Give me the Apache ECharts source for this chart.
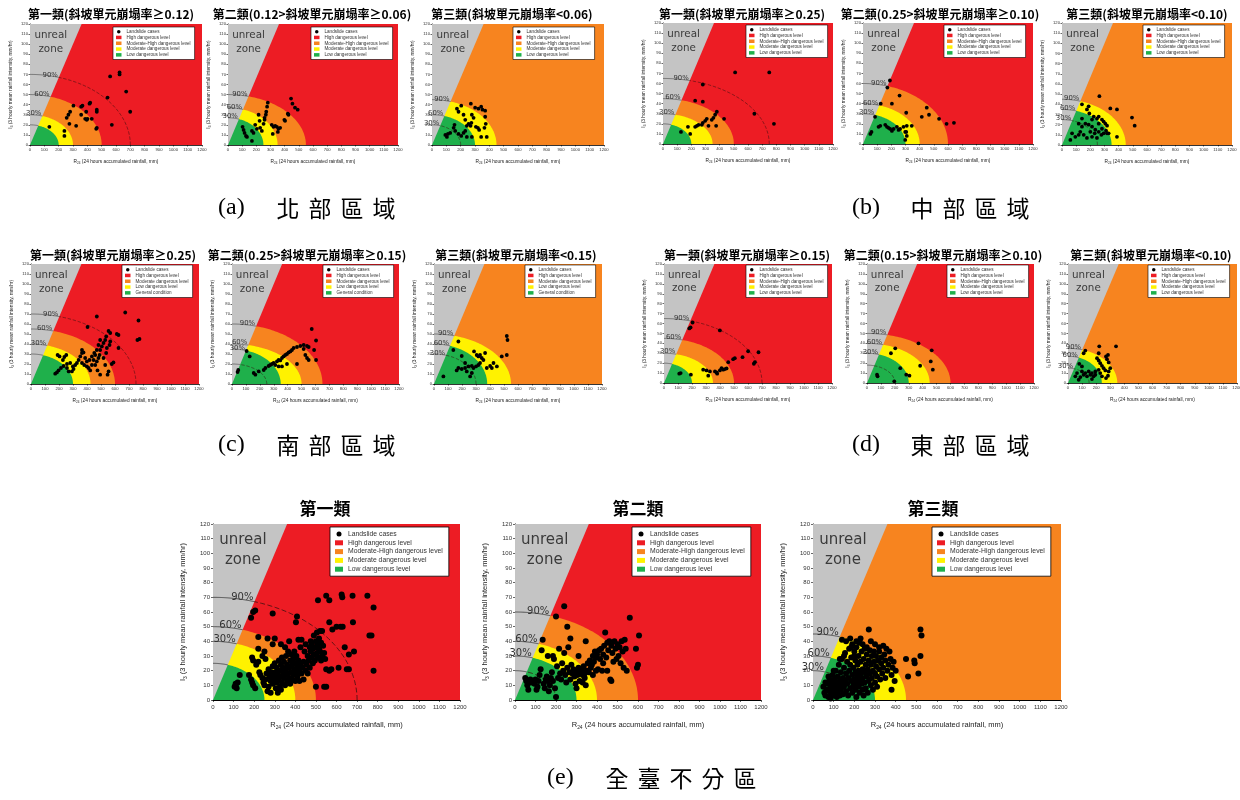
<!DOCTYPE html>
<html>
<head>
<meta charset="utf-8">
<script src="https://cdn.jsdelivr.net/npm/echarts@6/dist/echarts.min.js"></script>
<style>
  html, body { margin: 0; padding: 0; background: #fff; }
  #chart { width: 1240px; height: 800px; }
</style>
</head>
<body>
<div id="chart"></div>
<script>
// ---------------- data ----------------
// physical limit: 3-hour mean intensity cannot exceed R24 / 3
const unrealLine = [[0, 0], [360, 120]];

const legendStd = ['Landslide cases', 'High dangerous level', 'Moderate-High dangerous level', 'Moderate dangerous level', 'Low dangerous level'];
const legendSouth = ['Landslide cases', 'High dangerous level', 'Moderate dangerous level', 'Low dangerous level', 'General condition'];

const northTitles = ['第一類(斜坡單元崩塌率≥0.12)', '第二類(0.12>斜坡單元崩塌率≥0.06)', '第三類(斜坡單元崩塌率<0.06)'];
const centralTitles = ['第一類(斜坡單元崩塌率≥0.25)', '第二類(0.25>斜坡單元崩塌率≥0.10)', '第三類(斜坡單元崩塌率<0.10)'];
const southTitles = ['第一類(斜坡單元崩塌率≥0.25)', '第二類(0.25>斜坡單元崩塌率≥0.15)', '第三類(斜坡單元崩塌率<0.15)'];
const eastTitles = ['第一類(斜坡單元崩塌率≥0.15)', '第二類(0.15>斜坡單元崩塌率≥0.10)', '第三類(斜坡單元崩塌率<0.10)'];
const allTitles = ['第一類', '第二類', '第三類'];

const captionTags = ['(a)', '(b)', '(c)', '(d)', '(e)'];
const captionNames = ['北部區域', '中部區域', '南部區域', '東部區域', '全臺不分區'];

// zone boundaries [R24 radius, I3 radius]: low, moderate, (moderate-high)
const northC1Zones = [[200, 20], [300, 30], [500, 50]];
const northC2Zones = [[250, 27], [350, 37], [550, 50]];
const northC3Zones = [[300, 30], [450, 45]];
const centralC1Zones = [[200, 20], [350, 30], [500, 45]];
const centralC2Zones = [[300, 30], [400, 40], [600, 60]];
const centralC3Zones = [[350, 35], [450, 45]];
const southC1Zones = [[300, 30], [425, 40], [600, 55]];
const southC2Zones = [[350, 35], [500, 40], [650, 60]];
const southC3Zones = [[380, 40], [550, 50]];
const eastC1Zones = [[200, 20], [350, 30], [500, 45]];
const eastC2Zones = [[300, 30], [450, 40], [600, 50]];
const eastC3Zones = [[240, 27], [350, 35]];
const allC1Zones = [[250, 25], [400, 40], [500, 50]];
const allC2Zones = [[300, 30], [400, 40], [600, 60]];
const allC3Zones = [[300, 30], [450, 45]];

// probability contours [R24 radius, I3 radius, label]
const northC1Arcs = [[700, 70, '90%'], [500, 50, '60%'], [300, 30, '30%'], [200, 20, '']];
const northC2Arcs = [[550, 50, '90%'], [350, 37, '60%'], [250, 27, '30%']];
const northC3Arcs = [[450, 45, '90%'], [300, 30, '60%'], [200, 20, '30%']];
const centralC1Arcs = [[750, 65, '90%'], [500, 45, '60%'], [350, 30, '30%'], [200, 20, '']];
const centralC2Arcs = [[600, 60, '90%'], [400, 40, '60%'], [300, 30, '30%']];
const centralC3Arcs = [[450, 45, '90%'], [350, 35, '60%'], [250, 25, '30%']];
const southC1Arcs = [[750, 70, '90%'], [600, 55, '60%'], [425, 40, '30%'], [300, 30, '']];
const southC2Arcs = [[650, 60, '90%'], [500, 40, '60%'], [350, 35, '30%'], [250, 20, '']];
const southC3Arcs = [[550, 50, '90%'], [380, 40, '60%'], [300, 30, '30%']];
const eastC1Arcs = [[700, 65, '90%'], [500, 45, '60%'], [350, 30, '30%'], [200, 20, '']];
const eastC2Arcs = [[600, 50, '90%'], [450, 40, '60%'], [300, 30, '30%'], [200, 18, '']];
const eastC3Arcs = [[350, 35, '90%'], [240, 27, '60%'], [150, 15, '30%']];
const allC1Arcs = [[700, 70, '90%'], [500, 50, '60%'], [400, 40, '30%'], [250, 25, '']];
const allC2Arcs = [[600, 60, '90%'], [400, 40, '60%'], [300, 30, '30%'], [200, 20, '']];
const allC3Arcs = [[450, 45, '90%'], [300, 30, '60%'], [200, 20, '30%']];

// landslide cases [R24 (mm), I3 (mm/hr)]
const northC1 = [[625,72],[625,70],[559,68],[671,53],[541,47],[699,33],[571,20],[415,41],[420,42],[357,38],[366,39],[303,39],[280,33],[268,30],[256,27],[357,30],[392,33],[396,25],[401,26],[466,35],[466,33],[431,26],[466,17],[462,16],[322,19],[275,21],[135,18],[240,14],[240,9],[385,26]];
const northC2 = [[445,46],[455,41],[473,37],[492,35],[422,31],[427,30],[281,42],[276,38],[270,33],[267,30],[258,27],[258,25],[251,21],[216,30],[223,24],[309,20],[321,18],[333,19],[345,18],[356,16],[368,17],[352,13],[398,25],[403,24],[316,11],[192,20],[204,16],[227,17],[239,14],[110,15],[117,12],[127,9],[134,8],[103,18],[169,4],[169,14],[180,12]];
const northC3 = [[271,41],[301,37],[324,36],[343,38],[352,35],[371,34],[204,39],[174,36],[185,33],[220,30],[232,25],[278,30],[290,27],[275,22],[269,19],[306,18],[320,17],[329,15],[371,28],[375,21],[366,17],[382,8],[343,8],[232,14],[220,12],[204,9],[185,11],[111,11],[104,8],[93,10],[127,12],[157,20],[151,17],[162,14],[243,19],[255,21],[243,8],[278,8]];
const centralC1 = [[509,71],[750,71],[281,59],[227,43],[281,42],[645,30],[783,20],[431,25],[380,32],[368,29],[356,26],[344,24],[309,25],[298,23],[281,21],[274,19],[251,19],[239,18],[227,17],[321,18],[375,18],[176,17],[192,10],[127,12]];
const centralC2 = [[190,63],[172,56],[258,48],[125,40],[204,40],[85,27],[305,31],[415,27],[450,36],[466,29],[590,20],[110,17],[122,18],[157,19],[169,17],[180,16],[192,15],[204,13],[216,15],[239,17],[251,14],[262,15],[286,17],[298,12],[309,18],[344,18],[309,8],[298,4],[52,10],[305,12],[60,12],[537,25],[642,21]];
const centralC3 = [[264,48],[141,40],[188,38],[341,36],[388,35],[494,27],[513,19],[388,8],[176,35],[193,31],[224,28],[247,26],[259,28],[282,25],[294,23],[306,21],[318,19],[311,14],[294,11.5],[278,10],[259,13],[235,15],[212,18],[188,20],[165,21],[141,18],[129,13],[118,10],[94,8],[71,11.5],[59,5],[212,25],[212,8],[176,7],[153,10],[231,11.5],[259,21],[282,16],[318,11.5],[329,11.5],[247,7],[200,13],[141,26],[118,21]];
const southC1 = [[470,67.5],[673,71.5],[768,63.5],[760,44],[775,45],[404,57],[554,53],[566,51],[613,50],[625,49],[625,36],[589,21.6],[577,20],[537,47.5],[530,44],[518,41],[506,37.6],[494,34],[490,29],[482,26],[470,22.6],[459,19],[475,13.6],[494,9.3],[547,9.3],[554,12.6],[530,19],[518,26],[537,31],[542,36],[561,39],[566,42.5],[494,44],[482,39],[470,34],[452,31],[435,27.6],[418,24],[399,22.6],[387,26],[364,31],[352,27.6],[340,24],[328,21],[316,19],[299,17.6],[280,21],[257,20],[233,18],[214,16],[197,13.6],[185,11.6],[173,10.3],[257,16],[269,12.6],[292,12.6],[304,15],[364,21],[380,19],[399,17.6],[411,16],[423,13.6],[435,19],[447,24],[459,29],[238,27],[252,29],[190,29],[204,27.6],[228,24],[375,31.6],[364,34]];
const southC2 = [[45,14],[40,12],[105,33],[127,27.6],[156,11],[168,9.3],[192,12.6],[228,14],[240,16],[263,18],[275,19],[287,20],[299,21],[311,19],[323,22.6],[335,24],[347,23.6],[359,26],[371,27.6],[383,29],[395,30],[407,31.6],[419,32.6],[431,34],[443,36],[467,37],[491,38],[515,39],[539,38],[551,37],[515,35],[527,29],[539,26],[551,24],[573,55],[604,43.5],[590,34],[604,24],[467,20],[395,20],[359,17.6],[335,17.6]];
const southC3 = [[520,48],[525,44],[520,29],[174,42.5],[138,34],[198,28],[222,21],[286,32.6],[305,29],[317,27.6],[329,29],[341,26],[353,24],[329,21],[317,19],[300,17.6],[282,16],[270,18],[246,17.6],[222,16],[198,15],[174,16],[270,11],[258,7.6],[377,16],[401,18],[413,16],[449,17.6],[484,27.6],[425,21],[67,7.6],[162,13.6],[234,12.6],[365,31]];
const eastC1 = [[204,61],[190,56],[181,55],[399,53],[601,32],[675,31],[649,21],[642,19.4],[561,26],[506,25],[494,24],[459,21],[280,13.4],[304,12.7],[328,11.7],[364,11.7],[375,10.7],[399,12.7],[411,15],[423,13.4],[435,14],[447,14.7],[316,7.4],[380,9.4],[109,9.4],[119,10],[192,8.4]];
const eastC2 = [[370,40],[465,33],[203,35],[172,30],[382,17.4],[458,21.8],[473,13.4],[239,15],[282,8.4],[305,7.4],[196,1.7],[72,8.4],[76,6.7]];
const eastC3 = [[222,37],[341,37],[123,32.7],[111,30],[270,26.7],[284,28.3],[218,30],[206,25],[218,22.7],[229,20],[241,17.3],[253,15],[265,12.7],[289,11.7],[300,15],[284,7.3],[270,5],[147,11.7],[159,8.3],[170,10],[182,6.7],[194,8.3],[135,6.7],[123,10],[111,8.3],[99,11.7],[88,6],[64,10],[52,6.7],[76,3.3],[170,4],[194,11.7],[218,13.3],[229,10],[241,6.7],[80,19.3],[99,16.7],[277,24],[289,20.7]];
const allC1 = [[105,9],[110,10],[115,8],[120,12],[130,17],[175,17],[185,14],[190,12],[195,10],[205,8],[190,29],[195,27],[210,24],[220,26],[225,19],[230,17],[240,15],[245,12],[250,10],[255,14],[260,18],[265,6],[270,9],[270,21],[275,16],[280,13],[285,19],[290,23],[290,11],[295,16],[300,25],[300,14],[305,19],[305,8],[310,22],[310,12],[315,17],[315,5],[320,27],[320,14],[325,20],[325,9],[330,24],[330,16],[335,29],[335,12],[340,19],[340,22],[345,15],[345,26],[350,17],[350,10],[355,21],[355,30],[360,13],[360,24],[365,33],[365,18],[370,22],[370,15],[375,27],[375,11],[380,19],[380,31],[385,24],[385,14],[390,17],[390,28],[395,21],[395,33],[400,25],[400,13],[405,19],[405,30],[410,23],[410,16],[415,27],[415,41],[420,20],[420,13],[425,24],[425,36],[430,18],[430,41],[435,22],[440,26],[440,14],[445,33],[450,20],[450,38],[455,24],[460,18],[460,30],[465,27],[470,36],[470,22],[475,33],[475,40],[480,29],[480,38],[485,35],[485,25],[490,31],[490,44],[495,27],[500,36],[500,40],[505,46],[505,32],[510,38],[510,29],[515,42],[515,35],[520,47],[520,33],[525,27],[525,39],[530,47],[530,30],[535,37],[540,32],[545,28],[550,21],[565,20],[575,21],[580,48],[600,50],[620,50],[630,50],[565,53],[640,36],[660,31],[685,33],[610,22],[650,21],[660,21],[500,9],[540,9],[550,9],[680,53],[760,44],[770,44],[780,63],[780,20],[510,68],[550,71],[565,68],[625,72],[628,70],[678,71],[750,71],[195,60],[205,61],[185,56],[290,59],[408,57],[403,53],[220,43],[265,42],[290,38],[300,42],[330,38],[350,36],[370,40],[250,33],[240,30],[220,35],[255,28],[330,7],[280,5],[110,11]];
const allC2 = [[50,15],[55,13],[60,10],[65,7],[75,14],[80,12],[95,11],[100,14],[105,7],[110,9],[115,13],[120,17],[125,21],[130,34],[135,41],[140,11],[145,8],[150,14],[155,16],[160,13],[165,6],[170,10],[175,15],[180,19],[185,13],[190,28],[195,8],[200,2],[200,57],[205,23],[210,15],[215,35],[220,18],[225,14],[230,25],[235,20],[240,64],[240,32],[245,17],[250,12],[255,50],[255,22],[260,36],[265,19],[270,42],[270,14],[275,24],[280,18],[285,21],[290,16],[295,11],[300,20],[300,8],[305,17],[310,22],[310,30],[315,13],[320,19],[325,21],[330,17],[335,23],[340,18],[345,40],[345,10],[350,20],[355,25],[360,19],[365,27],[370,22],[375,24],[380,30],[385,26],[390,33],[395,29],[400,31],[405,21],[410,34],[415,28],[420,35],[425,20],[430,31],[435,37],[440,46],[445,29],[450,39],[455,34],[460,40],[465,14],[470,13],[470,37],[475,32],[480,26],[485,40],[490,35],[495,28],[500,38],[505,30],[510,36],[515,25],[520,40],[525,33],[530,22],[535,41],[540,35],[545,20],[560,56],[590,35],[595,22],[600,24],[605,44],[450,20],[430,25],[395,20],[380,17],[340,15],[330,12],[160,30],[185,30]];
const allC3 = [[50,9],[55,5],[60,3],[65,7],[70,11],[75,2],[80,6],[80,14],[85,9],[85,1],[90,4],[90,12],[95,7],[95,17],[100,3],[100,10],[105,14],[105,6],[110,20],[110,8],[115,2],[115,12],[120,16],[120,5],[125,9],[125,24],[130,13],[130,3],[135,19],[135,7],[140,11],[140,28],[140,41],[145,4],[145,15],[150,9],[150,22],[155,13],[155,32],[160,6],[160,18],[160,40],[165,11],[165,26],[170,3],[170,15],[175,20],[175,35],[180,8],[180,42],[180,24],[185,13],[185,29],[190,5],[190,17],[190,38],[195,10],[195,22],[200,14],[200,33],[205,7],[205,19],[205,27],[210,2],[210,12],[210,36],[215,16],[215,24],[220,9],[220,30],[220,20],[225,5],[225,14],[225,39],[230,18],[230,26],[235,11],[235,33],[240,21],[240,7],[240,15],[245,28],[245,3],[250,12],[250,19],[250,35],[255,24],[255,8],[260,16],[260,31],[265,5],[265,21],[270,48],[270,13],[270,27],[275,18],[275,34],[280,10],[280,40],[280,24],[285,15],[285,30],[290,20],[290,7],[295,26],[295,33],[300,12],[300,18],[305,23],[305,30],[310,16],[310,9],[315,27],[320,21],[320,33],[325,14],[330,25],[330,29],[335,18],[340,37],[340,22],[345,31],[350,15],[350,27],[355,35],[360,20],[365,24],[370,33],[375,28],[380,7],[380,17],[385,22],[390,26],[395,13],[400,20],[450,28],[460,16],[490,27],[492,25],[510,18],[520,48],[525,44],[520,30],[210,40],[240,38],[260,36],[300,38],[320,36],[150,30],[130,28],[100,20],[75,16],[60,12],[230,42],[200,30],[185,36]];

// ---------------- styles ----------------
const RED = '#ed1c24', ORANGE = '#f7841f', YELLOW = '#fff200', GREEN = '#1fb04b', GREY = '#c4c4c4';
const legendColors = ['#000', RED, ORANGE, YELLOW, GREEN];

// panel layout: plot box [left, top, width, height], title centre, legend corner
const panels = [
  { title: northTitles[0], cls: 1, zones: northC1Zones, arcs: northC1Arcs, pts: northC1, names: legendStd, box: [30, 24, 172, 121], tp: [111, 14], lp: [113, 27] },
  { title: northTitles[1], cls: 2, zones: northC2Zones, arcs: northC2Arcs, pts: northC2, names: legendStd, box: [228, 24, 170, 121], tp: [312, 14], lp: [311, 27] },
  { title: northTitles[2], cls: 3, zones: northC3Zones, arcs: northC3Arcs, pts: northC3, names: legendStd, box: [432, 24, 172, 121], tp: [512, 14], lp: [513, 27] },
  { title: centralTitles[0], cls: 1, zones: centralC1Zones, arcs: centralC1Arcs, pts: centralC1, names: legendStd, box: [663, 23, 170, 121], tp: [742, 14], lp: [746, 25] },
  { title: centralTitles[1], cls: 2, zones: centralC2Zones, arcs: centralC2Arcs, pts: centralC2, names: legendStd, box: [863, 23, 170, 121], tp: [940, 14], lp: [944, 25] },
  { title: centralTitles[2], cls: 3, zones: centralC3Zones, arcs: centralC3Arcs, pts: centralC3, names: legendStd, box: [1062, 23, 170, 122], tp: [1147, 14], lp: [1143, 25] },
  { title: southTitles[0], cls: 1, zones: southC1Zones, arcs: southC1Arcs, pts: southC1, names: legendSouth, box: [31, 264, 168, 120], tp: [113, 255], lp: [122, 265] },
  { title: southTitles[1], cls: 2, zones: southC2Zones, arcs: southC2Arcs, pts: southC2, names: legendSouth, box: [232, 264, 167, 120], tp: [307, 255], lp: [323, 265] },
  { title: southTitles[2], cls: 3, zones: southC3Zones, arcs: southC3Arcs, pts: southC3, names: legendSouth, box: [434, 264, 168, 120], tp: [516, 255], lp: [525, 265] },
  { title: eastTitles[0], cls: 1, zones: eastC1Zones, arcs: eastC1Arcs, pts: eastC1, names: legendStd, box: [664, 264, 168, 119], tp: [747, 255], lp: [746, 265] },
  { title: eastTitles[1], cls: 2, zones: eastC2Zones, arcs: eastC2Arcs, pts: eastC2, names: legendStd, box: [867, 264, 167, 119], tp: [943, 255], lp: [947, 265] },
  { title: eastTitles[2], cls: 3, zones: eastC3Zones, arcs: eastC3Arcs, pts: eastC3, names: legendStd, box: [1068, 264, 169, 119], tp: [1151, 255], lp: [1148, 265] },
  { title: allTitles[0], cls: 1, zones: allC1Zones, arcs: allC1Arcs, pts: allC1, names: legendStd, box: [213, 524, 247, 176], tp: [325, 509], lp: [330, 527], big: true },
  { title: allTitles[1], cls: 2, zones: allC2Zones, arcs: allC2Arcs, pts: allC2, names: legendStd, box: [515, 524, 246, 176], tp: [638, 509], lp: [632, 527], big: true },
  { title: allTitles[2], cls: 3, zones: allC3Zones, arcs: allC3Arcs, pts: allC3, names: legendStd, box: [813, 524, 248, 176], tp: [933, 509], lp: [932, 527], big: true }
];
const captionPos = [[218, 208], [852, 208], [218, 445], [852, 445], [547, 778]];

// ---------------- builders ----------------
function quarterEllipse(api, a, b) {
  const pts = [api.coord([0, 0])];
  for (let i = 0; i <= 72; i++) {
    const t = (Math.PI / 2) * i / 72;
    pts.push(api.coord([a * Math.cos(t), b * Math.sin(t)]));
  }
  return pts;
}

function zoneSeries(idx, name, color, shape) {
  return {
    type: 'custom', name, xAxisIndex: idx, yAxisIndex: idx, silent: true,
    itemStyle: { color },
    data: shape ? [[0, 0]] : [],
    renderItem(params, api) {
      if (shape === 'full') {
        const p0 = api.coord([0, 120]), p1 = api.coord([1200, 0]);
        return { type: 'rect', shape: { x: p0[0], y: p0[1], width: p1[0] - p0[0], height: p1[1] - p0[1] }, style: { fill: color } };
      }
      return { type: 'polygon', shape: { points: quarterEllipse(api, shape[0], shape[1]) }, style: { fill: color } };
    }
  };
}

function overlaySeries(idx, p) {
  const k = p.big ? 1 : 0.69;
  return {
    type: 'custom', xAxisIndex: idx, yAxisIndex: idx, silent: true, data: [[0, 0]],
    renderItem(params, api) {
      const kids = [];
      kids.push({ type: 'polygon', shape: { points: [api.coord(unrealLine[0]), api.coord(unrealLine[1]), api.coord([0, 120])] }, style: { fill: GREY } });
      const tc = api.coord([145, 102]);
      kids.push({ type: 'text', x: tc[0], y: tc[1], style: { text: 'unreal\nzone', align: 'center', verticalAlign: 'middle', fontSize: 15 * k, fontFamily: 'DejaVu Sans', lineHeight: 20 * k, fill: '#3a3a3a' } });
      p.arcs.forEach(([a, b, lab]) => {
        const ts = Math.atan(a / (3 * b));
        const greyPart = [], colPart = [];
        for (let i = 0; i <= 40; i++) {
          const t = ts + (Math.PI / 2 - ts) * i / 40;
          greyPart.push(api.coord([a * Math.cos(t), b * Math.sin(t)]));
        }
        for (let i = 0; i <= 72; i++) {
          const t = ts * i / 72;
          colPart.push(api.coord([a * Math.cos(t), b * Math.sin(t)]));
        }
        kids.push({ type: 'polyline', shape: { points: greyPart }, style: { stroke: '#333', lineWidth: 0.8 * k, fill: null } });
        const onZone = p.zones.some(z => z[0] === a && z[1] === b);
        if (!onZone) {
          kids.push({ type: 'polyline', shape: { points: colPart }, style: { stroke: '#3a1010', lineWidth: 0.8 * k, lineDash: [5 * k, 2.5 * k], fill: null } });
        }
        if (lab) {
          const q = api.coord([a * Math.cos(ts), b * Math.sin(ts)]);
          kids.push({ type: 'text', x: q[0] - 1, y: q[1] + 1, style: { text: lab, align: 'right', verticalAlign: 'bottom', fontSize: 10 * k, fontFamily: 'DejaVu Sans', fill: '#333' } });
        }
      });
      return { type: 'group', children: kids };
    }
  };
}

const grid = [], xAxis = [], yAxis = [], series = [], legend = [], graphicEls = [];
const plainNumber = v => String(v);

panels.forEach((p, i) => {
  const big = !!p.big;
  const tickFont = big ? 6 : 4.2;
  const nameFont = big ? 7.5 : 4.8;
  grid.push({ left: p.box[0], top: p.box[1], width: p.box[2], height: p.box[3], outerBoundsMode: 'none', containLabel: false });
  const rich = {
    r: { fontSize: nameFont, fontFamily: 'Liberation Sans', color: '#222', lineHeight: nameFont * 1.3, verticalAlign: 'middle' },
    s: { fontSize: nameFont * 0.65, fontFamily: 'Liberation Sans', color: '#222', lineHeight: nameFont * 0.8, verticalAlign: 'bottom' }
  };
  xAxis.push({
    gridIndex: i, type: 'value', min: 0, max: 1200, interval: 100,
    axisLine: { show: true, onZero: false, lineStyle: { color: '#000', width: big ? 1 : 0.8 } },
    axisTick: { show: true, length: big ? 2 : 1.5, lineStyle: { color: '#000', width: 0.6 } },
    axisLabel: { fontSize: tickFont, color: '#333', margin: big ? 4 : 3, fontFamily: 'Liberation Sans', formatter: plainNumber },
    splitLine: { show: false },
    name: '{r|R}{s|24}{r| (24 hours accumulated rainfall, mm)}', nameLocation: 'middle', nameGap: big ? 20 : 13.5,
    nameMoveOverlap: false, nameTextStyle: { rich }
  });
  yAxis.push({
    gridIndex: i, type: 'value', min: 0, max: 120, interval: 10,
    axisLine: { show: true, onZero: false, lineStyle: { color: '#000', width: big ? 1 : 0.8 } },
    axisTick: { show: true, length: big ? 2 : 1.5, lineStyle: { color: '#000', width: 0.6 } },
    axisLabel: { fontSize: tickFont, color: '#333', margin: big ? 3 : 2, fontFamily: 'Liberation Sans', formatter: plainNumber },
    splitLine: { show: false },
    name: '{r|I}{s|3}{r| (3 hourly mean rainfall intensity, mm/hr)}', nameLocation: 'middle', nameGap: big ? 25 : 16,
    nameMoveOverlap: false, nameTextStyle: { rich }
  });

  const [gz, yz, oz] = p.zones;
  series.push(zoneSeries(i, p.names[1], RED, p.cls === 3 ? null : 'full'));
  series.push(zoneSeries(i, p.names[2], ORANGE, p.cls === 3 ? 'full' : oz));
  series.push(zoneSeries(i, p.names[3], YELLOW, yz));
  series.push(zoneSeries(i, p.names[4], GREEN, gz));
  series.push(overlaySeries(i, p));
  series.push({
    type: 'scatter', name: p.names[0], xAxisIndex: i, yAxisIndex: i, silent: true,
    symbol: 'circle', symbolSize: big ? 6 : 3.8, itemStyle: { color: '#000', opacity: 1 }, data: p.pts
  });

  legend.push({
    left: p.lp[0], top: p.lp[1], orient: 'vertical', selectedMode: false,
    backgroundColor: '#fff', borderColor: '#000', borderWidth: big ? 0.8 : 0.6, borderRadius: 0,
    padding: big ? [3, 6, 3, 5] : [2, 4, 2, 3],
    itemWidth: big ? 8 : 5.5, itemHeight: big ? 5 : 3.5, itemGap: big ? 0.8 : 0.5,
    textStyle: { fontSize: big ? 6.8 : 4.6, lineHeight: big ? 8 : 5.3, color: '#333', fontFamily: 'Liberation Sans' },
    data: p.names.map((n, j) => ({ name: n, icon: j === 0 ? 'circle' : 'rect', itemStyle: { color: legendColors[j], borderWidth: 0, opacity: 1 } }))
  });

  graphicEls.push({
    type: 'text', x: p.tp[0], y: p.tp[1], silent: true,
    style: { text: p.title, align: 'center', verticalAlign: 'middle', fontSize: big ? 17 : 12, fontWeight: 'bold', fontFamily: '"Noto Sans CJK TC"', fill: '#000' }
  });
});

captionTags.forEach((tag, i) => {
  const chars = Array.from(captionNames[i]).map(ch => '{c|' + ch + '}').join('');
  graphicEls.push({
    type: 'text', x: captionPos[i][0], y: captionPos[i][1], silent: true,
    style: {
      text: '{p|' + tag + '}' + chars, verticalAlign: 'middle', fill: '#000',
      rich: {
        p: { fontSize: 24, fontFamily: 'Liberation Serif', width: 54, fill: '#000' },
        c: { fontSize: 23, fontFamily: '"Noto Sans CJK TC"', width: 32, align: 'center', fill: '#000' }
      }
    }
  });
});

const chart = echarts.init(document.getElementById('chart'), null, { renderer: 'canvas' });
chart.setOption({
  animation: false,
  backgroundColor: '#fff',
  grid, xAxis, yAxis, legend, series,
  graphic: { elements: graphicEls }
});
</script>
</body>
</html>
